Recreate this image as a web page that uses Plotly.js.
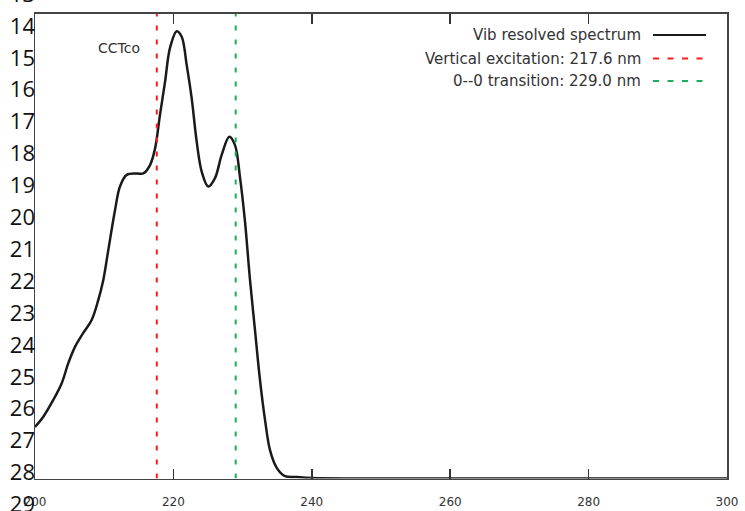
<!DOCTYPE html>
<html>
<head>
<meta charset="utf-8">
<script src="https://cdn.plot.ly/plotly-3.0.1.min.js"></script>
<style>
html,body{margin:0;padding:0;background:#fff;overflow:hidden;width:745px;height:511px;}
#chart{width:745px;height:531px;margin-top:-10px;}
</style>
</head>
<body>
<div id="chart"></div>
<script>
// Spectrum data (wavelength in nm, relative intensity)
const wavelength = [200.0, 201.2, 202.64, 203.86, 204.81, 205.78, 206.98, 208.19, 209.15, 209.87,
  210.59, 211.56, 212.28, 213.25, 214.70, 215.65, 216.62, 217.34, 218.06, 218.79, 219.51,
  220.48, 221.20, 221.92, 222.64, 223.37, 224.09, 225.04, 226.01, 226.98, 228.08,
  228.90, 229.62, 230.35, 231.07, 231.79, 232.51, 233.24, 233.96, 234.93, 236.13,
  237.82, 240.0, 250.0, 260.0, 280.0, 300.0];
const intensity = [0.111, 0.133, 0.169, 0.205, 0.248, 0.283, 0.313, 0.341, 0.384, 0.427,
  0.491, 0.577, 0.628, 0.653, 0.656, 0.656, 0.674, 0.709, 0.782, 0.853, 0.926,
  0.962, 0.950, 0.889, 0.818, 0.724, 0.660, 0.628, 0.646, 0.696, 0.735,
  0.717, 0.648, 0.552, 0.427, 0.319, 0.212, 0.126, 0.061, 0.023, 0.005,
  0.003, 0.001, 0.0, 0.0, 0.0, 0.0];

const verticalExcitation = 217.6;
const zeroZeroTransition = 229.0;

const seriesNames = ['Vib resolved spectrum', 'Vertical excitation: 217.6 nm', '0--0 transition: 229.0 nm'];
const seriesColors = ['#1a1a1a', '#ff1a1a', '#1aae5c'];

const xTicks = [200, 220, 240, 260, 280, 300];
const yTickLabels = [13, 14, 15, 16, 17, 18, 19, 20, 21, 22, 23, 24, 25, 26, 27, 28, 29];
const moleculeLabel = 'CCTco';

// Geometry helpers (window pixels -> paper); the chart div is shifted up by OFF px
const W = 745, OFF = 10, HL = 531, L = 35, R = 18;
const pw = W - L - R;
const px = p => (p - L) / pw;
const py = p => (HL - (p + OFF)) / HL;

const traces = [
  {x: wavelength, y: intensity, mode: 'lines', line: {color: seriesColors[0], width: 2.5, shape: 'spline', smoothing: 1},
   name: seriesNames[0], xaxis: 'x', yaxis: 'y', hoverinfo: 'skip'},
  {x: [verticalExcitation, verticalExcitation], y: [0, 1], mode: 'lines',
   line: {color: seriesColors[1], width: 2, dash: '5px,9px'}, name: seriesNames[1], xaxis: 'x', yaxis: 'y', hoverinfo: 'skip'},
  {x: [zeroZeroTransition, zeroZeroTransition], y: [0, 1], mode: 'lines',
   line: {color: seriesColors[2], width: 2, dash: '5px,9px'}, name: seriesNames[2], xaxis: 'x', yaxis: 'y', hoverinfo: 'skip'},
  {x: [], y: [], mode: 'lines', xaxis: 'x', yaxis: 'y2', showlegend: false, hoverinfo: 'skip'}
];

const legendRows = [35, 58.5, 81];
const annotations = seriesNames.map((n, i) => ({
  xref: 'paper', yref: 'paper', x: px(643), y: py(legendRows[i]), xanchor: 'right', yanchor: 'middle',
  text: n, showarrow: false, font: {family: 'DejaVu Sans', size: 15, color: '#333'}
}));
annotations.push({xref: 'paper', yref: 'paper', x: px(118.5), y: py(48), xanchor: 'center', yanchor: 'middle',
  text: moleculeLabel, showarrow: false, font: {family: 'DejaVu Sans', size: 14, color: '#333'}});

const shapes = seriesNames.map((n, i) => ({
  type: 'line', xref: 'paper', yref: 'paper', x0: px(653), x1: px(i === 0 ? 706 : 704),
  y0: py(legendRows[i]), y1: py(legendRows[i]),
  line: {color: seriesColors[i], width: 2, dash: i === 0 ? 'solid' : '6px,8.5px'}
}));

// y2 label scale: label 13 at window y=-6, 31.9 px per unit
const y2Top = 13 - (OFF - 6) / 31.9;
const y2Bottom = y2Top + HL / 31.9;

const layout = {
  width: W, height: HL,
  margin: {l: L, r: R, t: 0, b: 0, pad: 0},
  paper_bgcolor: '#fff', plot_bgcolor: 'rgba(0,0,0,0)',
  showlegend: false,
  xaxis: {domain: [0, 1], anchor: 'y', range: [200, 300], tickvals: xTicks, ticks: 'inside', ticklen: 10,
    tickwidth: 1.5, tickcolor: '#333', showline: true, linecolor: '#444', linewidth: 1.5, mirror: 'ticks',
    showgrid: false, zeroline: false, tickfont: {family: 'DejaVu Sans', size: 12, color: '#333'}, ticklabelstandoff: 12},
  yaxis: {domain: [(HL - 478.5 - OFF) / HL, (HL - 13.5 - OFF) / HL], anchor: 'x', range: [0, 1], showline: true, linecolor: '#444',
    linewidth: 1.5, mirror: true, ticks: '', showticklabels: false, showgrid: false, zeroline: false},
  yaxis2: {domain: [0, 1], anchor: 'free', position: 0, side: 'left', range: [y2Bottom, y2Top],
    tickvals: yTickLabels, ticktext: yTickLabels.map(String), ticks: '', showline: false, showgrid: false,
    zeroline: false, ticklabeloverflow: 'allow', tickfont: {family: 'Open Sans', size: 22, color: '#111'}},
  annotations: annotations,
  shapes: shapes
};

Plotly.newPlot('chart', traces, layout, {staticPlot: true, displayModeBar: false});
</script>
</body>
</html>
